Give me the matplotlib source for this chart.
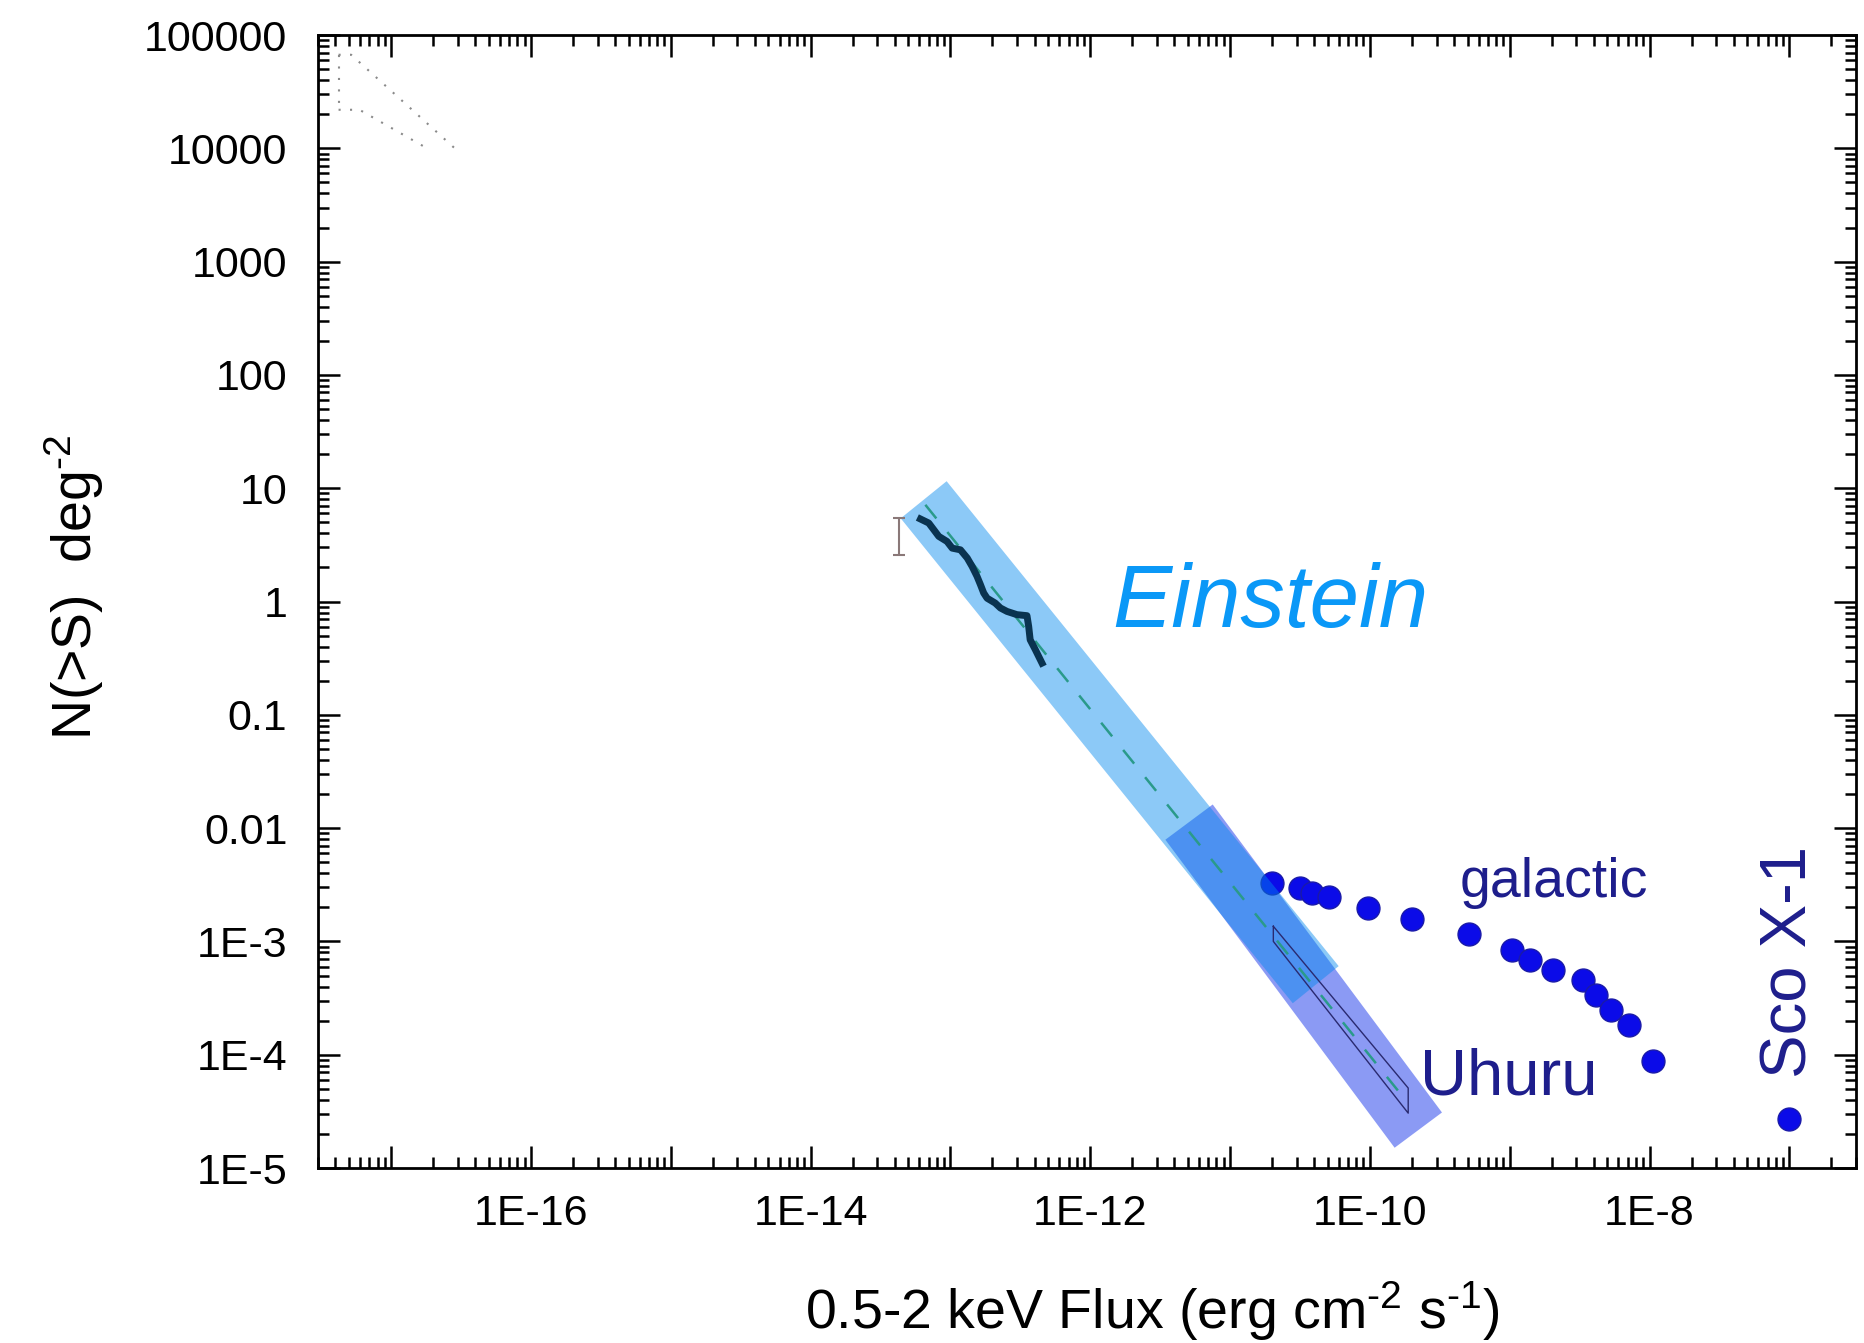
import numpy as np
import matplotlib
matplotlib.use('Agg')
import matplotlib.pyplot as plt
from matplotlib.ticker import FixedLocator, FixedFormatter, LogLocator, NullFormatter

plt.rcParams['font.family'] = 'Liberation Sans'
plt.rcParams['mathtext.fontset'] = 'custom'
plt.rcParams['mathtext.rm'] = 'Liberation Sans'
plt.rcParams['mathtext.it'] = 'Liberation Sans:italic'

# Uhuru galactic sources: flux (erg cm^-2 s^-1) and N(>S) (deg^-2)
galactic_flux = [1.99e-11, 3.16e-11, 3.84e-11, 5.12e-11, 9.7e-11, 1.99e-10, 5.12e-10,
                 1.04e-9, 1.39e-9, 2.04e-9, 3.34e-9, 4.16e-9, 5.32e-9, 7.19e-9, 1.06e-8]
galactic_n = [3.27e-3, 2.96e-3, 2.70e-3, 2.49e-3, 1.97e-3, 1.58e-3, 1.16e-3,
              8.45e-4, 6.89e-4, 5.62e-4, 4.59e-4, 3.39e-4, 2.49e-4, 1.84e-4, 8.73e-5]
sco_flux = [1.0e-7]
sco_n = [2.7e-5]

# Einstein medium sensitivity survey logN-logS
einstein_flux = [6.11e-14, 7.0e-14, 7.6e-14, 8.26e-14, 9.46e-14, 1.03e-13, 1.18e-13, 1.32e-13,
                 1.43e-13, 1.55e-13, 1.64e-13, 1.73e-13, 1.83e-13, 2.09e-13, 2.28e-13, 2.54e-13,
                 2.99e-13, 3.53e-13, 3.63e-13, 3.72e-13, 4.05e-13, 4.52e-13]
einstein_n = [5.35, 4.93, 4.31, 3.76, 3.39, 2.96, 2.86, 2.42, 2.04, 1.67, 1.41, 1.19, 1.07,
              0.97, 0.877, 0.818, 0.766, 0.750, 0.603, 0.460, 0.376, 0.286]
err_flux = [4.26e-14]
err_n = [3.8]
err_lo = [1.2]
err_hi = [1.7]

# euclidean extrapolation and survey bands (end points of centre lines)
euclid_flux = [6.62e-14, 1.84e-10]
euclid_n = [7.14, 3.85e-5]
einstein_band_flux = [6.44e-14, 4.1e-11]
einstein_band_n = [7.91, 4.15e-4]
uhuru_band_flux = [5.09e-12, 2.22e-10]
uhuru_band_n = [1.13e-2, 2.16e-5]

# Uhuru allowed region
uhuru_box_flux = [2.04e-11, 2.04e-11, 1.88e-10, 1.88e-10, 2.04e-11]
uhuru_box_n = [1.36e-3, 1.0e-3, 3.05e-5, 5.08e-5, 1.36e-3]

# deep survey bounds (top left)
deep_upper_flux = [4.21e-18, 5.18e-18, 2.99e-17]
deep_upper_n = [6.7e4, 6.7e4, 9.5e3]
deep_lower_flux = [4.21e-18, 5.94e-18, 1.81e-17]
deep_lower_n = [2.19e4, 2.19e4, 1.0e4]

x_ticks = [1e-17, 1e-16, 1e-15, 1e-14, 1e-13, 1e-12, 1e-11, 1e-10, 1e-9, 1e-8, 1e-7]
x_labels = ['', '1E-16', '', '1E-14', '', '1E-12', '', '1E-10', '', '1E-8', '']
y_ticks = [1e-5, 1e-4, 1e-3, 1e-2, 1e-1, 1, 10, 100, 1000, 10000, 100000]
y_labels = ['1E-5', '1E-4', '1E-3', '0.01', '0.1', '1', '10', '100', '1000', '10000', '100000']

HY = '\u2010'  # plain hyphen in the unit exponents

fig = plt.figure(figsize=(18.65, 13.43), dpi=100)
ax = fig.add_axes([0.1705, 0.1303, 0.8247, 0.8436])
ax.set_xscale('log')
ax.set_yscale('log')
ax.set_xlim(3e-18, 3e-7)
ax.set_ylim(1e-5, 1e5)

band_lw = 42.5
ax.plot(uhuru_band_flux, uhuru_band_n, color='#1937eb', alpha=0.5, lw=band_lw,
        solid_capstyle='butt', zorder=1)
ax.plot(galactic_flux, galactic_n, 'o', color='#0b0be8', mec='#1a1aa8', mew=1,
        ms=16.5, zorder=2)
ax.plot(sco_flux, sco_n, 'o', color='#0b0be8', mec='#1a1aa8', mew=1, ms=16.5, zorder=2)
ax.plot(einstein_band_flux, einstein_band_n, color='#0088ee', alpha=0.45, lw=band_lw,
        solid_capstyle='butt', zorder=3)

ax.plot(euclid_flux, euclid_n, color='#2a9a8a', lw=1.8, dashes=(7, 7), zorder=4)
ax.plot(uhuru_box_flux, uhuru_box_n, color='#2a2a70', lw=1.0, zorder=4)
ax.plot(einstein_flux, einstein_n, color='#0a3350', lw=5, zorder=5)
ax.errorbar(err_flux, err_n, yerr=[err_lo, err_hi], fmt='none', ecolor='#8a7878',
            elinewidth=1.5, capsize=4, capthick=1.5, zorder=5)

for fx, fn in [(deep_upper_flux, deep_upper_n), (deep_lower_flux, deep_lower_n)]:
    ax.plot(fx, fn, color='#8a8a8a', lw=1.5, dashes=(1, 4.5), zorder=4)
ax.plot([deep_upper_flux[0], deep_lower_flux[0]], [deep_upper_n[0], deep_lower_n[0]],
        color='#8a8a8a', lw=1.5, dashes=(1, 4.5), zorder=4)

# labels on the plot
ax.text(1.44e-12, 0.60, 'Einstein', fontsize=64, style='italic', color='#0a98f7',
        ha='left', va='baseline')
ax.text(4.4e-10, 2.49e-3, 'galactic', fontsize=40, color='#1e1e8c', ha='left', va='baseline')
ax.text(2.3e-10, 4.44e-5, 'Uhuru', fontsize=47, color='#1e1e8c', ha='left', va='baseline')
ax.text(1.32e-7, 6.26e-5, 'Sco X-1', fontsize=47, color='#1e1e8c', rotation=90,
        rotation_mode='anchor', ha='left', va='baseline')

# axes
ax.xaxis.set_major_locator(FixedLocator(x_ticks))
ax.xaxis.set_major_formatter(FixedFormatter(x_labels))
ax.yaxis.set_major_locator(FixedLocator(y_ticks))
ax.yaxis.set_major_formatter(FixedFormatter(y_labels))
for axis in (ax.xaxis, ax.yaxis):
    axis.set_minor_locator(LogLocator(base=10, subs=np.arange(2, 10), numticks=100))
    axis.set_minor_formatter(NullFormatter())

ax.tick_params(which='both', direction='in', top=True, right=True, width=1.8, labelsize=31)
ax.tick_params(which='major', length=16)
ax.tick_params(which='minor', length=8)
ax.tick_params(axis='y', pad=22)
ax.tick_params(axis='x', pad=19)
for sp in ax.spines.values():
    sp.set_linewidth(2)

ax.text(-0.147, 0.378, 'N(>S)  deg$^{' + HY + '2}$', fontsize=40, rotation=90,
        rotation_mode='anchor', ha='left', va='baseline', transform=ax.transAxes)
ax.text(0.3165, -0.1425, '0.5-2 keV Flux (erg cm$^{' + HY + '2}$ s$^{' + HY + '1}$)',
        fontsize=40, ha='left', va='baseline', transform=ax.transAxes)

fig.savefig('out.png', dpi=100)
